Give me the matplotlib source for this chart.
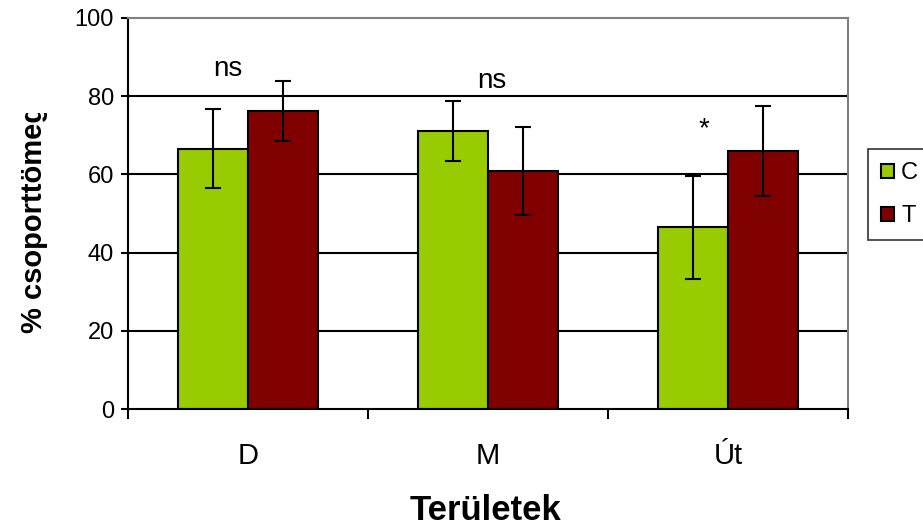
import numpy as np
import matplotlib.pyplot as plt
from matplotlib.transforms import Bbox, TransformedBbox

plt.rcParams['font.family'] = ['Liberation Sans', 'DejaVu Sans']

# Group means and error bar half-widths
areas = ['D', 'M', 'Út']
c_vals = [66.6, 71.2, 46.5]
t_vals = [76.3, 60.8, 66.0]
c_err = [10.0, 7.7, 13.2]
t_err = [7.7, 11.3, 11.6]
series_names = ['C', 'T']
signif = ['ns', 'ns', '*']

fig = plt.figure(figsize=(9.23, 5.27), dpi=100)
ax = fig.add_axes([128/923, 1 - 409/527, 720/923, 391/527])

x = np.arange(len(areas))
w = 0.29
ax.bar(x - w/2, c_vals, w, yerr=c_err, color='#99CC00', edgecolor='black',
       linewidth=1.5, label=series_names[0],
       error_kw=dict(ecolor='black', elinewidth=1.5, capsize=5.5, capthick=1.5))
ax.bar(x + w/2, t_vals, w, yerr=t_err, color='#800000', edgecolor='black',
       linewidth=1.5, label=series_names[1],
       error_kw=dict(ecolor='black', elinewidth=1.5, capsize=5.5, capthick=1.5))

ax.set_xlim(-0.5, 2.5)
ax.set_ylim(0, 100)
ax.set_yticks([0, 20, 40, 60, 80, 100])
ax.tick_params(axis='y', direction='out', length=5, width=1.5, labelsize=17, pad=5)
for yv in [20, 40, 60, 80]:
    ax.axhline(yv, color='black', lw=1.5, zorder=0)

# category boundaries as ticks, names centred underneath
ax.set_xticks([-0.5, 0.5, 1.5, 2.5])
ax.set_xticklabels([])
ax.tick_params(axis='x', which='major', direction='out', length=7, width=1.5)
ax.set_xticks(x, minor=True)
ax.set_xticklabels(areas, minor=True, fontsize=21)
ax.tick_params(axis='x', which='minor', length=0, pad=24)

for side in ['left', 'bottom']:
    ax.spines[side].set_linewidth(1.5)
for side in ['top', 'right']:
    ax.spines[side].set_color('#808080')
    ax.spines[side].set_linewidth(1.5)

# significance marks
ax.text(-0.086, 85.2, signif[0], ha='center', va='baseline', fontsize=20)
ax.text(1.017, 82.1, signif[1], ha='center', va='baseline', fontsize=20)
ax.text(1.9, 69.8, signif[2], ha='center', va='baseline', fontsize=20)

fig.text(486/923, 1 - 520/527, 'Területek', ha='center', va='baseline',
         fontsize=25, fontweight='bold')

ylab = fig.text(34/923, 1 - 333/527, '% csoporttömeg', rotation=90,
                ha='center', va='bottom', fontsize=21, fontweight='bold')
ylab.set_clip_box(TransformedBbox(Bbox([[0, 0], [1, 1 - 113/527]]), fig.transFigure))
ylab.set_clip_on(True)

leg = fig.legend(loc='upper left', bbox_to_anchor=(868/923, 1 - 149/527),
                 borderaxespad=0, fontsize=17, frameon=True, fancybox=False,
                 edgecolor='black', handlelength=0.55, handleheight=0.55,
                 handletextpad=0.3, labelspacing=0.9, borderpad=0.55)
leg.get_frame().set_linewidth(1.2)

fig.savefig('out.png', dpi=100)
